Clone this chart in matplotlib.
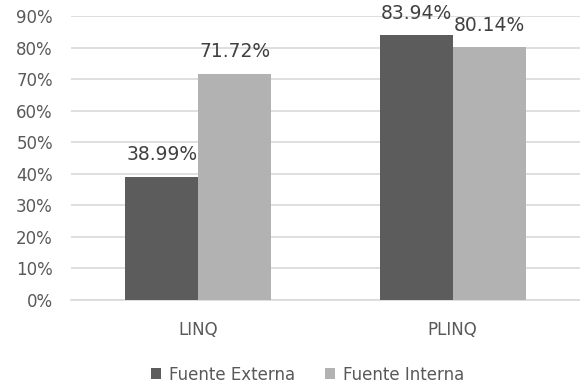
import numpy as np
import matplotlib.pyplot as plt
from matplotlib.ticker import PercentFormatter

# Chart data
categories = ['LINQ', 'PLINQ']
series_names = ['Fuente Externa', 'Fuente Interna']
externa = [38.99, 83.94]
interna = [71.72, 80.14]
colors = ['#5c5c5c', '#b2b2b2']

fig = plt.figure(figsize=(5.8, 3.85), dpi=100)
ax = fig.add_axes([0.1224, 0.2208, 0.8776, 0.7376])

x = np.arange(len(categories))
width = 0.286

for i, (vals, name, color) in enumerate(zip([externa, interna], series_names, colors)):
    pos = x + (i - 0.5) * width
    bars = ax.bar(pos, vals, width, color=color, label=name, zorder=3)
    for b, v in zip(bars, vals):
        ax.text(b.get_x() + b.get_width() / 2, v + 4.0, f'{v:.2f}%',
                ha='center', va='bottom', fontsize=13.5, color='#404040', zorder=4)

ax.set_xlim(-0.5, 1.5)
ax.set_ylim(0, 90)
ax.set_yticks(np.arange(0, 91, 10))
ax.yaxis.set_major_formatter(PercentFormatter(decimals=0))
ax.set_xticks(x)
ax.set_xticklabels(categories)

ax.grid(axis='y', color='#d9d9d9', linewidth=1.2, zorder=0)
for side in ['top', 'right', 'left']:
    ax.spines[side].set_visible(False)
ax.spines['bottom'].set_color('#d9d9d9')
ax.spines['bottom'].set_linewidth(1.2)
ax.tick_params(axis='both', length=0, labelcolor='#595959', labelsize=12)
ax.tick_params(axis='y', pad=13)
ax.tick_params(axis='x', pad=15)

ax.legend(loc='upper center', bbox_to_anchor=(0.465, -0.178), ncol=2, frameon=False,
          fontsize=12, labelcolor='#595959', handlelength=0.6, handleheight=0.6,
          handletextpad=0.5, columnspacing=1.8)

fig.savefig('out.png', dpi=100)
